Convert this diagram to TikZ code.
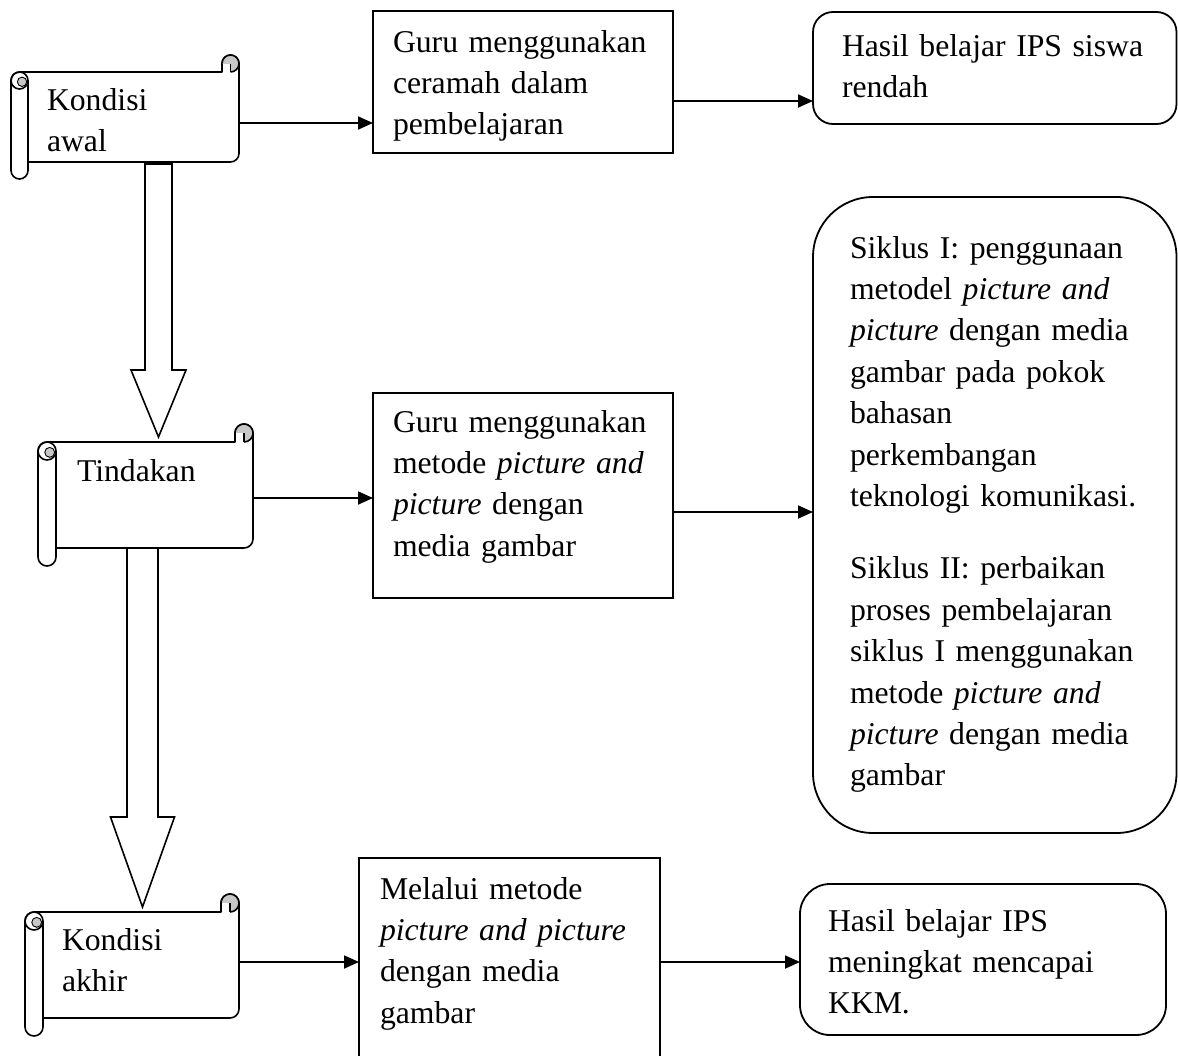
\documentclass[tikz,border=0pt]{standalone}
\usepackage{fontspec}
\setmainfont{Liberation Serif}
\usetikzlibrary{arrows.meta,calc}
\definecolor{curl}{RGB}{200,200,200}
\newcommand\myscroll[6]{%
  \pgfmathsetmacro\scrL{#2}%
  \pgfmathsetmacro\scrTop{#3}%
  \pgfmathsetmacro\scrR{#4}%
  \pgfmathsetmacro\scrBot{#5}%
  \pgfmathsetmacro\scrC{#6}%
  \pgfmathsetmacro\scrH{#6/2}%
  \pgfmathsetmacro\scrBT{#3+#6}%
  \pgfmathsetmacro\scrBB{#5-#6}%
  \filldraw[scrollline, fill=white] (\scrL+\scrH,\scrBT) -- (\scrR-\scrC,\scrBT) -- (\scrR-\scrC,\scrTop+\scrH)
    arc[start angle=180,end angle=360,radius=\scrH] -- (\scrR,\scrBB-\scrH)
    arc[start angle=0,end angle=90,radius=\scrH] -- (\scrL+\scrC,\scrBB) -- (\scrL+\scrC,\scrBot-\scrH)
    arc[start angle=0,end angle=180,radius=\scrH] -- (\scrL,\scrBT+\scrH)
    arc[start angle=180,end angle=270,radius=\scrH] -- cycle;
  \draw[scrollline] (\scrL+\scrC,\scrBT+\scrH) -- (\scrL+\scrC,\scrBB);
  \draw[scrollline] (\scrL+\scrH,\scrBT+\scrH) circle[radius=\scrH];
  \filldraw[fill=curl, line width=0.9pt] (\scrL+\scrH+\scrH*0.3,\scrBT+\scrH+\scrH*0.15) circle[radius=\scrH*0.55];
  \fill[curl] (\scrR-\scrH,\scrTop+\scrH) circle[radius=\scrH];
  \fill[white] (\scrR-\scrC,\scrTop+\scrH) rectangle (\scrR-\scrH,\scrBT);
  \draw[scrollline] (\scrR-\scrC,\scrTop+\scrH) arc[start angle=180,end angle=450,radius=\scrH];
  \draw[scrollline] (\scrR-\scrH,\scrTop+\scrH) -- (\scrR-\scrH,\scrBT);
  \draw[scrollline] (\scrR-\scrC,\scrTop+\scrH) -- (\scrR-\scrC,\scrBT);
  \node[inner sep=0pt, outer sep=0pt, anchor=north west,
        minimum width={(#4-#2-#6)*1pt}, minimum height={(#5-#3-2*#6)*1pt}] (#1) at (\scrL+\scrC,\scrBT) {};
}
\begin{document}
\begin{tikzpicture}[x=1pt,y=-1pt,
  scrollline/.style={line width=1.6pt, line join=round},
  box/.style={draw, line width=1.8pt, fill=white, inner sep=0pt, outer sep=0pt, anchor=north west},
  arr/.style={line width=1.8pt, -{Triangle[length=15pt,width=13pt]}},
  txt/.style={anchor=base west, inner sep=0pt, outer sep=0pt, align=left,
              font=\fontsize{31.7}{41.4}\selectfont},
  blk/.style={draw, line width=1.6pt, fill=white, line join=miter}]
\useasboundingbox (0,0) rectangle (1178,1055);
\clip (0,0) rectangle (1178,1055);

% scrolls
\myscroll{S1}{11}{55}{239}{179}{17}
\myscroll{S2}{38}{424}{253}{566}{18}
\myscroll{S3}{25}{894}{239}{1036}{18}

% block arrows
\coordinate (k1) at ($(S1.south)+(25,2)$);
\coordinate (k2) at ($(S2.north)+(4,-5)$);
\coordinate (k3) at ($(S2.south)+(-12,0)$);
\coordinate (k4) at ($(S3.north)+(1.5,-5)$);
\draw[blk] ($(k1)+(-13.5,0)$) -- ($(k2)+(-13.5,-67)$) -- ($(k2)+(-27.5,-67)$) -- (k2)
  -- ($(k2)+(27.5,-67)$) -- ($(k2)+(13.5,-67)$) -- ($(k1)+(13.5,0)$) -- cycle;
\draw[blk] ($(k3)+(-15.5,0)$) -- ($(k4)+(-15.5,-90)$) -- ($(k4)+(-32,-90)$) -- (k4)
  -- ($(k4)+(32,-90)$) -- ($(k4)+(15.5,-90)$) -- ($(k3)+(15.5,0)$) -- cycle;

% boxes
\node[box, minimum width=300pt, minimum height=142pt] (A) at (373,11) {};
\node[box, rounded corners=20pt, minimum width=363.5pt, minimum height=112pt] (B) at (813,12) {};
\node[box, minimum width=300pt, minimum height=205pt] (C) at (373,393) {};
\node[box, rounded corners=60pt, minimum width=363.5pt, minimum height=636pt] (D) at (813,197) {};
\node[box, minimum width=301pt, minimum height=215pt] (E) at (359,858) {};
\node[box, rounded corners=30pt, minimum width=366pt, minimum height=151pt] (F) at (800,884) {};

% connectors
\path ([yshift=-6pt]S1.east) coordinate (c1);
\path ([yshift=-19pt]A.east) coordinate (c2);
\path ([yshift=-3pt]S2.east) coordinate (c3);
\path ([yshift=-16.5pt]C.east) coordinate (c4);
\path ([yshift=3pt]S3.east) coordinate (c5);
\path ([yshift=3.5pt]E.east) coordinate (c6);
\draw[arr] (c1) -- (c1 -| A.west);
\draw[arr] (c2) -- (c2 -| B.west);
\draw[arr] (c3) -- (c3 -| C.west);
\draw[arr] (c4) -- (c4 -| D.west);
\draw[arr] (c5) -- (c5 -| E.west);
\draw[arr] (c6) -- (c6 -| F.west);

% texts
\node[txt, text width=120pt] (t1) at (47,110) {Kondisi\\awal};
\node[txt, text width=150pt] (t2) at (77,481) {Tindakan};
\node[txt, text width=120pt] (t3) at (62,950) {Kondisi\\akhir};
\node[txt, text width=275pt] (tA) at (393,52) {Guru menggunakan\\ceramah dalam\\pembelajaran};
\node[txt, text width=330pt] (tB) at (842,56) {Hasil belajar IPS siswa\\rendah};
\node[txt, text width=275pt] (tC) at (393,432) {Guru menggunakan\\metode \textit{picture and}\\\textit{picture} dengan\\media gambar};
\node[txt, text width=320pt] (tD) at (850,258) {Siklus I: penggunaan\\metodel \textit{picture and}\\\textit{picture} dengan media\\gambar pada pokok\\bahasan\\perkembangan\\teknologi komunikasi.\\[31pt]Siklus II: perbaikan\\proses pembelajaran\\siklus I menggunakan\\metode \textit{picture and}\\\textit{picture} dengan media\\gambar};
\node[txt, text width=280pt] (tE) at (380,899) {Melalui metode\\\textit{picture and picture}\\dengan media\\gambar};
\node[txt, text width=330pt] (tF) at (828,931) {Hasil belajar IPS\\meningkat mencapai\\KKM.};
\end{tikzpicture}
\end{document}
